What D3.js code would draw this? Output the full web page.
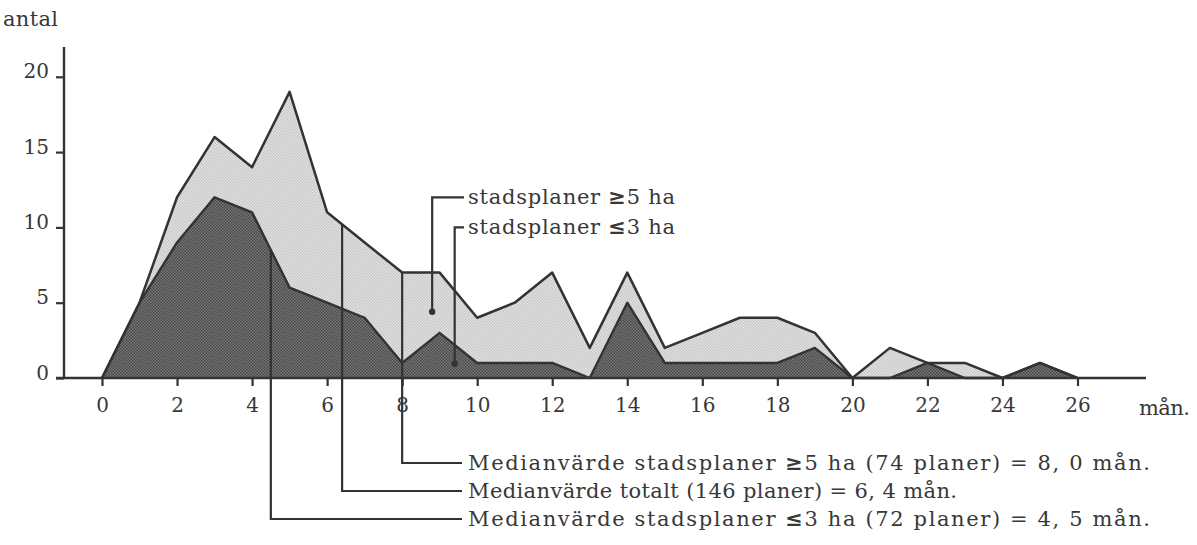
<!DOCTYPE html>
<html>
<head>
<meta charset="utf-8">
<script src="https://cdn.jsdelivr.net/npm/d3@7"></script>
<style>
  html, body { margin: 0; padding: 0; background: #ffffff; }
  svg { display: block; }
  text { font-family: "DejaVu Serif", "Liberation Serif", serif; fill: #383838; }
</style>
</head>
<body>
<svg id="chart" width="1197" height="545"></svg>
<script>
// Handläggningstid (månader) för stadsplaner – antal planer per månad
const months = [0, 1, 2, 3, 4, 5, 6, 7, 8, 9, 10, 11, 12, 13, 14, 15, 16, 17, 18, 19, 20, 21, 22, 23, 24, 25, 26];
// Samtliga planer (146 st)
const totalCount = [0, 5, 12, 16, 14, 19, 11, 9, 7, 7, 4, 5, 7, 2, 7, 2, 3, 4, 4, 3, 0, 2, 1, 1, 0, 1, 0];
// Stadsplaner <= 3 ha (72 st)
const smallCount = [0, 5, 9, 12, 11, 6, 5, 4, 1, 3, 1, 1, 1, 0, 5, 1, 1, 1, 1, 2, 0, 0, 1, 0, 0, 1, 0];

const xTicks = [0, 2, 4, 6, 8, 10, 12, 14, 16, 18, 20, 22, 24, 26];
const yTicks = [0, 5, 10, 15, 20];

// Medianvärden: månad, vilken kurva linjen utgår från, text
const medianMonths = [8.0, 6.4, 4.5];
const medianSource = ["total", "total", "small"];
const medianLabels = [
  "Medianvärde stadsplaner \u22655 ha (74 planer) = 8, 0 mån.",
  "Medianvärde totalt (146 planer) = 6, 4 mån.",
  "Medianvärde stadsplaner \u22643 ha (72 planer) = 4, 5 mån."
];

// Förklaringar med pekare in i ytorna (månad, antal)
const legendLabels = ["stadsplaner \u22655 ha", "stadsplaner \u22643 ha"];
const legendPointMonth = [8.8, 9.4];
const legendPointValue = [4.4, 0.95];
const legendRowValue = [12, 10];

const svg = d3.select("#chart");
const ink = "#333333";
const tickFont = 20;
const labelFont = 21;

const x = d3.scaleLinear().domain([0, 26]).range([102, 1077.5]);
const y = d3.scaleLinear().domain([0, 20]).range([378, 76.8]);

// Rastermönster för ytorna
const defs = svg.append("defs");
function dotPattern(id, base, dot) {
  const p = defs.append("pattern").attr("id", id)
    .attr("width", 3).attr("height", 3).attr("patternUnits", "userSpaceOnUse");
  p.append("rect").attr("width", 3).attr("height", 3).attr("fill", base);
  p.append("rect").attr("x", 0).attr("y", 0).attr("width", 1.5).attr("height", 1.5).attr("fill", dot);
  p.append("rect").attr("x", 1.5).attr("y", 1.5).attr("width", 1.5).attr("height", 1.5).attr("fill", dot);
}
dotPattern("lightFill", "#e4e4e4", "#c6c6c6");
dotPattern("darkFill", "#7a7a7a", "#464646");

const totalData = months.map((m, i) => ({ m, v: totalCount[i] }));
const smallData = months.map((m, i) => ({ m, v: smallCount[i] }));

const area = d3.area().x(d => x(d.m)).y0(y(0)).y1(d => y(d.v));
const line = d3.line().x(d => x(d.m)).y(d => y(d.v));

svg.append("path").datum(totalData).attr("d", area).attr("fill", "url(#lightFill)");
svg.append("path").datum(smallData).attr("d", area).attr("fill", "url(#darkFill)");
svg.append("path").datum(smallData).attr("d", line)
  .attr("fill", "none").attr("stroke", ink).attr("stroke-width", 2.4).attr("stroke-linejoin", "round");
svg.append("path").datum(totalData).attr("d", line)
  .attr("fill", "none").attr("stroke", ink).attr("stroke-width", 2.5).attr("stroke-linejoin", "round");

// Axlar
const xAxis = d3.axisBottom(x).tickValues(xTicks).tickSize(8).tickPadding(12).tickFormat(d3.format("d"));
const gx = svg.append("g").attr("transform", `translate(0,${y(0)})`).call(xAxis);
gx.select(".domain").remove();
gx.selectAll(".tick line").attr("stroke", ink).attr("stroke-width", 2.2);
gx.selectAll(".tick text").attr("font-size", tickFont).attr("fill", "#383838")
  .attr("font-family", "DejaVu Serif, serif");
svg.append("line").attr("x1", 56).attr("x2", 1146).attr("y1", y(0)).attr("y2", y(0))
  .attr("stroke", ink).attr("stroke-width", 2.4);

const yAxis = d3.axisLeft(y).tickValues(yTicks).tickSize(8).tickPadding(7).tickFormat(d3.format("d"));
const gy = svg.append("g").attr("transform", "translate(64,0)").call(yAxis);
gy.select(".domain").remove();
gy.selectAll(".tick line").attr("stroke", ink).attr("stroke-width", 2.2);
gy.selectAll(".tick text").attr("font-size", tickFont).attr("fill", "#383838")
  .attr("font-family", "DejaVu Serif, serif").attr("dy", "0.05em");
svg.append("line").attr("x1", 64).attr("x2", 64).attr("y1", 47).attr("y2", y(0) + 1)
  .attr("stroke", ink).attr("stroke-width", 2.4);

svg.append("text").attr("x", 3).attr("y", 26).attr("font-size", labelFont)
  .attr("textLength", 55).attr("lengthAdjust", "spacing").text("antal");
svg.append("text").attr("x", 1139).attr("y", 415).attr("font-size", labelFont)
  .attr("textLength", 51).attr("lengthAdjust", "spacing").text("mån.");

// Text där jämförelsetecknen sätts i fet stil
function richText(sel, str) {
  str.split(/([\u2264\u2265])/).forEach(part => {
    if (!part) return;
    const t = sel.append("tspan").text(part);
    if (part === "\u2264" || part === "\u2265") t.attr("font-weight", "bold");
  });
}

// Linjär interpolation i en serie
function valueAt(series, m) {
  const i = Math.min(Math.floor(m), series.length - 2);
  const t = m - i;
  return series[i] * (1 - t) + series[i + 1] * t;
}

// Medianlinjer med texter
const textX = 468;
const rowY = [463, 491, 519];
const rowWidth = [682, 489, 682];
medianMonths.forEach((mm, k) => {
  const src = medianSource[k] === "total" ? totalCount : smallCount;
  const top = y(valueAt(src, mm));
  const px = x(mm);
  svg.append("path")
    .attr("d", `M${px},${top} V${rowY[k]} H${textX - 6}`)
    .attr("fill", "none").attr("stroke", ink).attr("stroke-width", 2.2);
  const t = svg.append("text").attr("x", textX).attr("y", rowY[k] + 7)
    .attr("font-size", labelFont)
    .attr("textLength", rowWidth[k]).attr("lengthAdjust", "spacing");
  richText(t, medianLabels[k]);
});

// Förklaringar
legendLabels.forEach((lab, k) => {
  const px = x(legendPointMonth[k]);
  const py = y(legendPointValue[k]);
  const ly = y(legendRowValue[k]);
  svg.append("path")
    .attr("d", `M${px},${py} V${ly} H${textX - 4}`)
    .attr("fill", "none").attr("stroke", ink).attr("stroke-width", 2.2);
  svg.append("circle").attr("cx", px).attr("cy", py).attr("r", 3.2).attr("fill", ink);
  const t = svg.append("text").attr("x", textX).attr("y", ly + 7)
    .attr("font-size", labelFont)
    .attr("textLength", 207).attr("lengthAdjust", "spacing");
  richText(t, lab);
});
</script>
</body>
</html>
